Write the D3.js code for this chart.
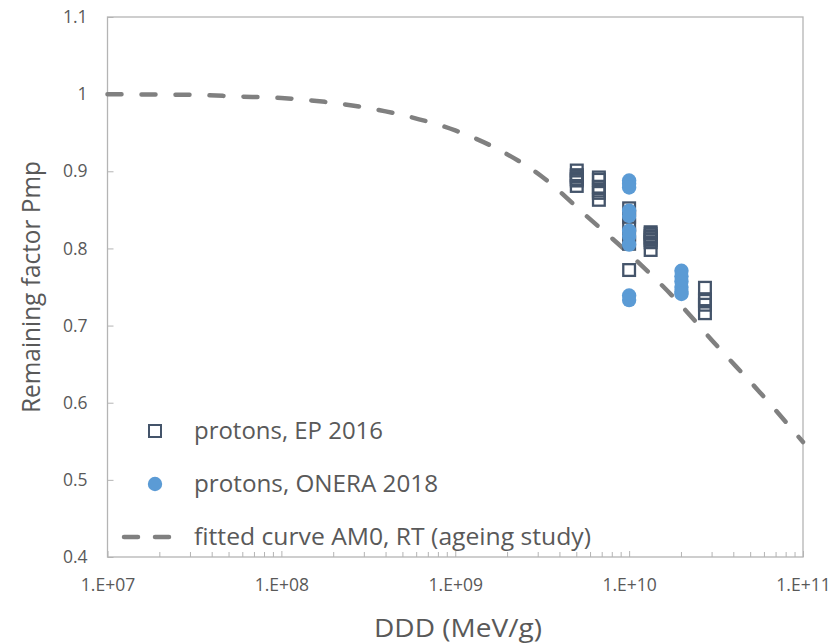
<!DOCTYPE html>
<html>
<head>
<meta charset="utf-8">
<script src="https://cdn.jsdelivr.net/npm/d3@7"></script>
<style>
  body { margin: 0; background: #fff; }
  svg text { font-family: "Open Sans", Lato, sans-serif; fill: #595959; }
</style>
</head>
<body>
<div class="chart"></div>
<script>
// EP 2016 protons (hollow squares), several runs per fluence
const epDDD = [5e9, 5e9, 5e9, 5e9, 5e9, 5e9,
  6.7e9, 6.7e9, 6.7e9, 6.7e9, 6.7e9, 6.7e9,
  1e10, 1e10, 1e10, 1e10, 1e10, 1e10,
  1.33e10, 1.33e10, 1.33e10, 1.33e10, 1.33e10, 1.33e10, 1.33e10,
  2.73e10, 2.73e10, 2.73e10, 2.73e10, 2.73e10];
const epPmp = [0.901, 0.895, 0.893, 0.890, 0.888, 0.881,
  0.892, 0.889, 0.880, 0.875, 0.872, 0.863,
  0.852, 0.841, 0.830, 0.818, 0.806, 0.772,
  0.821, 0.819, 0.816, 0.814, 0.811, 0.808, 0.798,
  0.749, 0.734, 0.732, 0.727, 0.716];

// ONERA 2018 protons (filled circles)
const oneraDDD = [1e10, 1e10, 1e10, 1e10, 1e10, 1e10, 1e10, 1e10, 1e10, 1e10,
  2e10, 2e10, 2e10, 2e10, 2e10, 2e10];
const oneraPmp = [0.888, 0.884, 0.879, 0.849, 0.842, 0.823, 0.816, 0.805, 0.739, 0.733,
  0.771, 0.764, 0.757, 0.750, 0.744, 0.741];

// fitted curve AM0, RT
const fitDDD = [1e7, 1.78e7, 3.16e7, 5.62e7, 1e8, 1.78e8, 3.16e8, 5.62e8, 1e9,
  1.78e9, 3.16e9, 5.62e9, 1e10, 1.78e10, 3.16e10, 5.62e10, 1e11];
const fitPmp = [1.000, 0.9995, 0.999, 0.997, 0.995, 0.990, 0.982, 0.970, 0.953,
  0.928, 0.893, 0.843, 0.793, 0.738, 0.675, 0.614, 0.549];

const xTicks = [1e7, 1e8, 1e9, 1e10, 1e11];
const xTickLabels = ['1.E+07', '1.E+08', '1.E+09', '1.E+10', '1.E+11'];
const yTicks = [0.4, 0.5, 0.6, 0.7, 0.8, 0.9, 1, 1.1];
const legendLabels = ['protons, EP 2016', 'protons, ONERA 2018', 'fitted curve AM0, RT (ageing study)'];

const width = 835, height = 644;
const margin = { left: 107.5, right: 32, top: 17, bottom: 87 };
const graphWidth = width - margin.left - margin.right;
const graphHeight = height - margin.top - margin.bottom;

const navy = '#44546a', blue = '#5b9bd5', gray = '#808080', axisGray = '#b4b4b4';

const x = d3.scaleLog().domain([1e7, 1e11]).range([0, graphWidth]);
const y = d3.scaleLinear().domain([0.4, 1.1]).range([graphHeight, 0]);

const svg = d3.select('.chart')
  .append('svg')
  .attr('width', width)
  .attr('height', height);

const graph = svg.append('g')
  .attr('transform', `translate(${margin.left}, ${margin.top})`);

// minor ticks on x (inside)
const minor = [];
for (let e = 7; e < 11; e++) for (let m = 2; m <= 9; m++) minor.push(m * Math.pow(10, e));

graph.append('g')
  .selectAll('line')
  .data(minor)
  .join('line')
  .attr('x1', d => x(d)).attr('x2', d => x(d))
  .attr('y1', graphHeight).attr('y2', graphHeight - 5)
  .attr('stroke', axisGray);

const xAxis = d3.axisBottom(x).tickValues(xTicks).tickSize(-6)
  .tickFormat((d, i) => xTickLabels[i]);
const yAxis = d3.axisLeft(y).tickValues(yTicks).tickSize(-6)
  .tickFormat(d => d3.format('')(d));

graph.append('g')
  .attr('transform', `translate(0, ${graphHeight})`)
  .call(xAxis)
  .call(g => g.select('.domain').remove())
  .call(g => g.selectAll('line').attr('stroke', axisGray))
  .call(g => g.selectAll('text').attr('y', 28).attr('dy', '0.35em').attr('font-size', 17.5));

graph.append('g')
  .call(yAxis)
  .call(g => g.select('.domain').remove())
  .call(g => g.selectAll('line').attr('stroke', axisGray))
  .call(g => g.selectAll('text').attr('x', -20).attr('font-size', 17.5));

// plot frame
graph.append('rect')
  .attr('width', graphWidth)
  .attr('height', graphHeight)
  .attr('fill', 'none')
  .attr('stroke', axisGray)
  .attr('stroke-width', 1.3);

// fitted curve
const line = d3.line()
  .x(d => x(d[0]))
  .y(d => y(d[1]))
  .curve(d3.curveMonotoneX);

graph.append('path')
  .datum(fitDDD.map((d, i) => [d, fitPmp[i]]))
  .attr('d', line)
  .attr('fill', 'none')
  .attr('stroke', gray)
  .attr('stroke-width', 4.5)
  .attr('stroke-linecap', 'round')
  .attr('stroke-dasharray', '14,20');

// hollow squares, no fill so overlapping ones stack into a column
const sq = 14, sw = 2.3;
graph.append('g')
  .selectAll('rect')
  .data(epDDD.map((d, i) => [d, epPmp[i]]))
  .join('rect')
  .attr('x', d => x(d[0]) - (sq - sw) / 2)
  .attr('y', d => y(d[1]) - (sq - sw) / 2)
  .attr('width', sq - sw)
  .attr('height', sq - sw)
  .attr('fill', 'none')
  .attr('stroke', navy)
  .attr('stroke-width', sw);

graph.append('g')
  .selectAll('circle')
  .data(oneraDDD.map((d, i) => [d, oneraPmp[i]]))
  .join('circle')
  .attr('cx', d => x(d[0]))
  .attr('cy', d => y(d[1]))
  .attr('r', 7.2)
  .attr('fill', blue);

// legend
const legendWidths = [189, 244, 397];
const legend = svg.append('g')
  .selectAll('g')
  .data(legendLabels)
  .join('g')
  .attr('transform', (d, i) => `translate(0, ${431 + i * 53})`);

legend.filter((d, i) => i === 0).append('rect')
  .attr('x', 149).attr('y', -6).attr('width', 12).attr('height', 12)
  .attr('fill', 'none').attr('stroke', navy).attr('stroke-width', 2);

legend.filter((d, i) => i === 1).append('circle')
  .attr('cx', 155).attr('r', 7.2).attr('fill', blue);

legend.filter((d, i) => i === 2).append('line')
  .attr('x1', 124).attr('x2', 171)
  .attr('stroke', gray).attr('stroke-width', 4.5)
  .attr('stroke-linecap', 'round')
  .attr('stroke-dasharray', '14,17');

legend.append('text')
  .attr('x', 194)
  .attr('dy', '0.35em')
  .attr('font-size', 23)
  .attr('textLength', (d, i) => legendWidths[i])
  .attr('lengthAdjust', 'spacingAndGlyphs')
  .text(d => d);

// axis titles
svg.append('text')
  .attr('x', 458)
  .attr('y', 628)
  .attr('text-anchor', 'middle')
  .attr('dy', '0.35em')
  .attr('font-size', 25)
  .attr('textLength', 168)
  .attr('lengthAdjust', 'spacingAndGlyphs')
  .text('DDD (MeV/g)');

svg.append('text')
  .attr('transform', `translate(31, ${margin.top + graphHeight / 2}) rotate(-90)`)
  .attr('text-anchor', 'middle')
  .attr('dy', '0.35em')
  .attr('font-size', 25)
  .attr('textLength', 252)
  .attr('lengthAdjust', 'spacingAndGlyphs')
  .text('Remaining factor Pmp');
</script>
</body>
</html>
